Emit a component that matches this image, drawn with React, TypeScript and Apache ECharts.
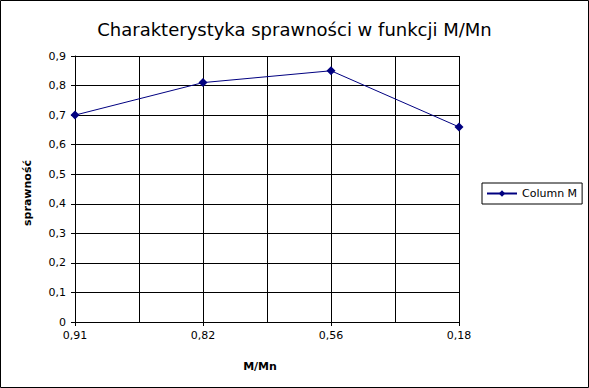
import React, { useEffect, useRef } from "react";
import * as echarts from "echarts";

const categories = ["0,91", "0,82", "0,56", "0,18"];
const efficiency = [0.7, 0.81, 0.85, 0.66];
const seriesName = "Column M";

export default function App() {
  const ref = useRef<HTMLDivElement>(null);
  useEffect(() => {
    const chart = echarts.init(ref.current!, null, { renderer: "svg" });
    const font = "DejaVu Sans";
    chart.setOption({
      animation: false,
      backgroundColor: "#ffffff",
      textStyle: { fontFamily: font },
      title: {
        text: "Charakterystyka sprawności w funkcji M/Mn",
        left: "center",
        top: 15,
        textStyle: { fontFamily: font, fontSize: 18, fontWeight: "normal", color: "#000" },
      },
      grid: { left: 75, right: 130, top: 56, bottom: 66, containLabel: false },
      legend: {
        left: 482,
        top: 183,
        orient: "vertical",
        borderColor: "#000",
        borderWidth: 1,
        padding: [5, 5, 5, 4],
        itemWidth: 30,
        itemHeight: 8,
        itemGap: 0,
        textStyle: { fontFamily: font, fontSize: 11, color: "#000" },
        data: [seriesName],
      },
      xAxis: {
        type: "value",
        min: 0,
        max: categories.length - 1,
        interval: 1,
        splitNumber: 2,
        name: "M/Mn",
        nameLocation: "middle",
        nameGap: 39,
        nameTextStyle: {
          fontFamily: font,
          fontSize: 11,
          fontWeight: "bold",
          color: "#000",
          padding: [0, 14, 0, 0],
        },
        axisLine: { lineStyle: { color: "#000", width: 1 } },
        axisTick: { show: true, length: 4, lineStyle: { color: "#000" } },
        axisLabel: {
          margin: 8,
          color: "#000",
          fontFamily: font,
          fontSize: 11,
          formatter: (v: number) => (Number.isInteger(v) ? categories[v] : ""),
        },
        splitLine: { show: true, lineStyle: { color: "#000", width: 1 } },
        minorTick: { show: false, splitNumber: 2 },
        minorSplitLine: { show: true, lineStyle: { color: "#000", width: 1 } },
      },
      yAxis: {
        type: "value",
        min: 0,
        max: 0.9,
        interval: 0.1,
        name: "sprawność",
        nameLocation: "middle",
        nameGap: 42,
        nameTextStyle: {
          fontFamily: font,
          fontSize: 11,
          fontWeight: "bold",
          color: "#000",
          padding: [0, 8, 0, 0],
        },
        axisLine: { show: true, lineStyle: { color: "#000", width: 1 } },
        axisTick: { show: true, length: 4, lineStyle: { color: "#000" } },
        axisLabel: {
          margin: 9,
          color: "#000",
          fontFamily: font,
          fontSize: 11,
          formatter: (v: number) => (v === 0 ? "0" : (Math.round(v * 10) / 10).toString().replace(".", ",")),
        },
        splitLine: { show: true, lineStyle: { color: "#000", width: 1 } },
      },
      series: [
        {
          name: seriesName,
          type: "line",
          data: efficiency.map((v, i) => [i, v]),
          symbol: "diamond",
          symbolSize: 9,
          lineStyle: { color: "#000080", width: 1 },
          itemStyle: { color: "#000080" },
        },
      ],
      graphic: [
        {
          type: "rect",
          shape: { x: 0.5, y: 0.5, width: 588, height: 387 },
          style: { fill: "none", stroke: "#000", lineWidth: 1 },
          silent: true,
          z: 100,
        },
      ],
    });
    return () => chart.dispose();
  }, []);
  return <div ref={ref} style={{ position: "absolute", left: 0, top: 0, width: 589, height: 388 }} />;
}
